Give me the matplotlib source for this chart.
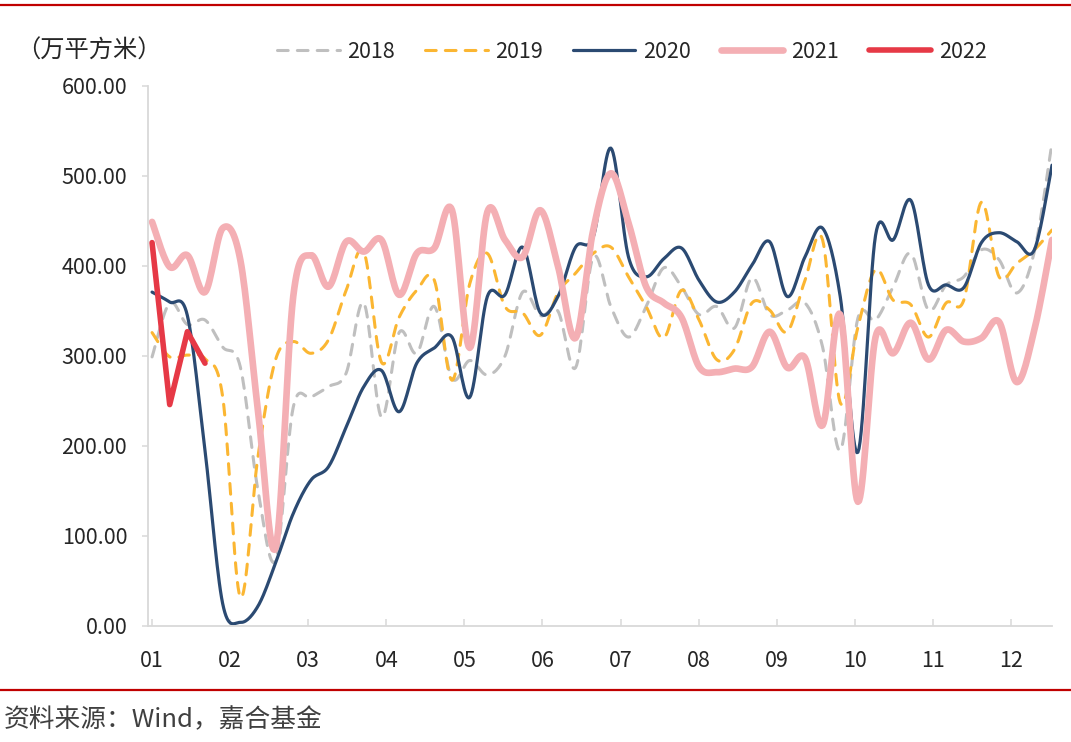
import numpy as np
import matplotlib
matplotlib.use("Agg")
import matplotlib.pyplot as plt
from matplotlib.lines import Line2D

plt.rcParams["font.family"] = ["Noto Sans CJK SC", "DejaVu Sans"]

# weekly values (万平方米)
weeks = np.arange(52)
months = ["01", "02", "03", "04", "05", "06", "07", "08", "09", "10", "11", "12"]
y_ticks = [0, 100, 200, 300, 400, 500, 600]

s2018 = [299, 359, 335, 340, 310, 288, 151, 73, 243, 254, 266, 281, 359, 232, 326, 303,
         355, 275, 295, 279, 300, 371, 345, 350, 287, 410, 355, 321, 355, 398, 377, 346,
         355, 331, 387, 346, 351, 359, 310, 195, 342, 340, 377, 414, 351, 379, 388, 418,
         407, 370, 416, 537]
s2019 = [326, 299, 301, 297, 255, 32, 188, 296, 316, 303, 318, 373, 416, 293, 343, 373,
         384, 273, 380, 414, 355, 348, 323, 370, 392, 414, 421, 388, 355, 320, 373, 340,
         296, 307, 359, 351, 327, 384, 429, 248, 332, 396, 362, 357, 321, 359, 362, 471,
         388, 403, 418, 440]
s2020 = [371, 360, 345, 195, 25, 4, 22, 70, 125, 162, 177, 221, 266, 284, 238, 292,
         309, 321, 254, 366, 368, 421, 348, 366, 421, 432, 531, 410, 388, 408, 420, 384,
         360, 371, 401, 427, 366, 410, 442, 366, 193, 434, 429, 473, 379, 379, 376, 426,
         437, 427, 418, 512]
s2021 = [449, 399, 412, 371, 442, 407, 240, 87, 366, 412, 377, 427, 416, 429, 368, 414,
         420, 462, 309, 460, 429, 410, 462, 400, 320, 440, 503, 448, 377, 359, 343, 288,
         282, 286, 288, 327, 287, 298, 223, 346, 138, 321, 303, 337, 296, 329, 316, 320,
         338, 271, 329, 429]
s2022 = [426, 246, 327, 292]


def smooth(x, y, n=16):
    # catmull-rom, roughly what excel does with "smoothed line"
    x = np.asarray(x, float)
    y = np.asarray(y, float)
    px = np.concatenate([[x[0]], x, [x[-1]]])
    py = np.concatenate([[y[0]], y, [y[-1]]])
    t = np.linspace(0, 1, n, endpoint=False)[:, None]
    xs, ys = [], []
    for i in range(1, len(px) - 2):
        for p, out in ((px, xs), (py, ys)):
            p0, p1, p2, p3 = p[i - 1], p[i], p[i + 1], p[i + 2]
            out.append((0.5 * (2 * p1 + (-p0 + p2) * t + (2 * p0 - 5 * p1 + 4 * p2 - p3) * t ** 2
                               + (-p0 + 3 * p1 - 3 * p2 + p3) * t ** 3)).ravel())
    xs.append([x[-1]])
    ys.append([y[-1]])
    return np.concatenate(xs), np.concatenate(ys)


fig = plt.figure(figsize=(10.71, 7.42), dpi=100)
ax = fig.add_axes([148 / 1071, 116 / 742, 904 / 1071, 540 / 742])

series = [
    ("2018", s2018, "#bfbfbf", 2.2, (3.5, 3.0)),
    ("2019", s2019, "#fbb632", 2.2, (3.5, 3.0)),
    ("2020", s2020, "#2b4a72", 2.3, None),
    ("2021", s2021, "#f4afb4", 4.8, None),
]
for name, vals, col, lw, dash in series:
    sx, sy = smooth(weeks[:len(vals)], vals)
    ln, = ax.plot(sx, sy, color=col, lw=lw, label=name, solid_capstyle="round")
    if dash:
        ln.set_dashes(dash)
        ln.set_dash_capstyle("round")

ax.plot(weeks[:len(s2022)], s2022, color="#e63946", lw=4.0, label="2022",
        solid_capstyle="round", solid_joinstyle="round")

ax.set_ylim(0, 600)
ax.set_xlim(-0.23, 51)
ax.set_yticks(y_ticks)
ax.set_yticklabels([f"{v:.2f}" for v in y_ticks])
ax.set_xticks(np.arange(12) * 4.425)
ax.set_xticklabels(months)

for s in ["top", "right"]:
    ax.spines[s].set_visible(False)
for s in ["left", "bottom"]:
    ax.spines[s].set_color("#d9d9d9")
    ax.spines[s].set_linewidth(1.3)
ax.tick_params(axis="y", direction="out", length=4, width=1.1, color="#d9d9d9",
               labelsize=15.5, labelcolor="#262626", pad=11)
ax.tick_params(axis="x", direction="in", length=5, width=1.1, color="#d9d9d9",
               labelsize=15.5, labelcolor="#262626", pad=17)

leg = fig.legend(loc="center", bbox_to_anchor=(0.59, 1 - 52 / 742), ncol=5, frameon=False,
                 fontsize=15.5, handlelength=2.9, handletextpad=0.35, columnspacing=1.4)
for t in leg.get_texts():
    t.set_color("#262626")

fig.text(16 / 1071, 1 - 51 / 742, "（万平方米）", fontsize=17.5, color="#262626", va="center")
fig.text(4 / 1071, 1 - 720 / 742, "资料来源：Wind，嘉合基金", fontsize=18.5, color="#404040",
         va="center")

fig.add_artist(Line2D([0, 1], [1 - 5 / 742] * 2, transform=fig.transFigure,
                      color="#c00000", lw=1.6))
fig.add_artist(Line2D([0, 1], [1 - 690 / 742] * 2, transform=fig.transFigure,
                      color="#c00000", lw=1.6))

fig.savefig("out.png", dpi=100)
